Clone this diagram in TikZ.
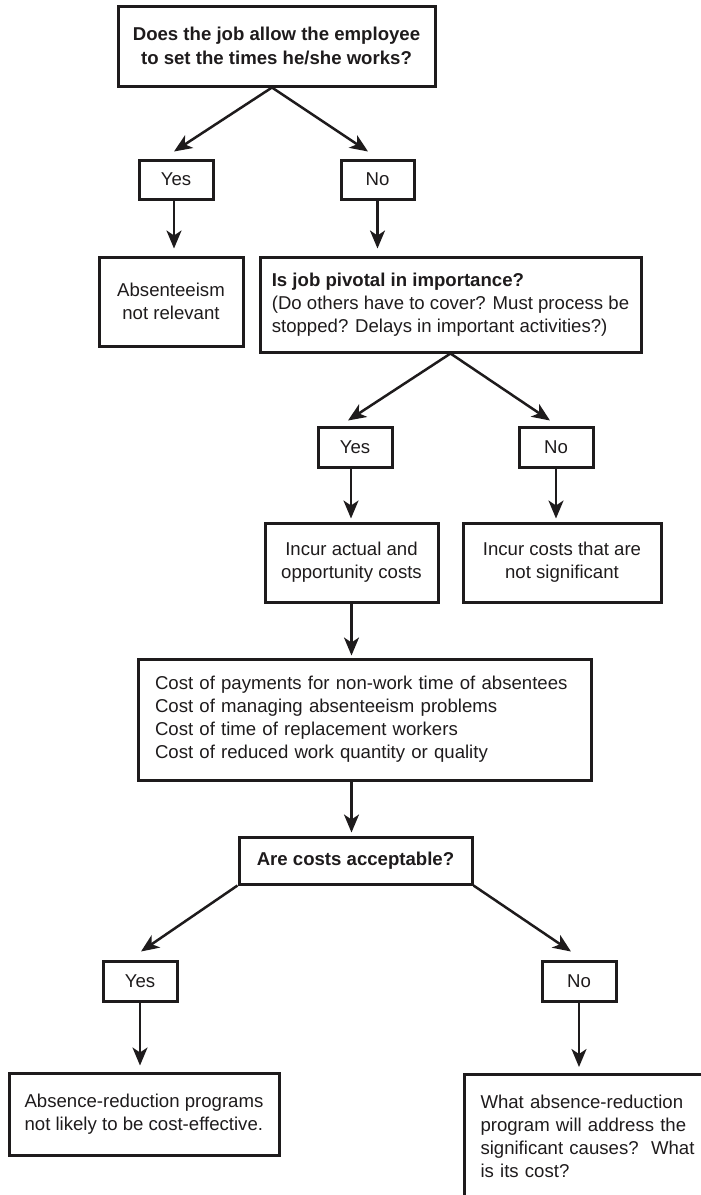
\documentclass[tikz,border=0pt]{standalone}
\usepackage{fontspec}
\setmainfont{Liberation Sans}
\usetikzlibrary{arrows.meta}
\definecolor{ink}{RGB}{30,27,28}
\begin{document}
\begin{tikzpicture}[x=1pt,y=-1pt,
  every node/.style={text=ink},
  txt/.style={font=\fontsize{18.6}{23}\selectfont},
  btxt/.style={font=\fontsize{18.6}{24}\selectfont\bfseries},
  box/.style={draw=ink, line width=3pt, inner sep=0pt, align=center, txt},
  arr/.style={draw=ink, line width=2.5pt, -{Stealth[length=18pt,width=15pt,inset=5pt]}},
]
\useasboundingbox (0,0) rectangle (701,1195);
\clip (0,0) rectangle (701,1195);

% first question and its answers
\node[box, btxt, minimum width=317pt, minimum height=80pt] (q1) at (276.5,46)
  {Does the job allow the employee\\to set the times he/she works?};
\node[box, minimum width=74pt, minimum height=39pt] (y1) at (176,179.5) {Yes};
\node[box, minimum width=73pt, minimum height=39pt] (n1) at (377.5,179.5) {No};
\node[box, minimum width=144pt, minimum height=89pt] (abs) at (171,301.5)
  {Absenteeism\\not relevant};
\node[box, align=left, minimum width=381pt, minimum height=95pt] (piv) at (450.5,304.5)
  {\textbf{Is job pivotal in importance?}\\(Do others have to cover? Must process be\\stopped? Delays in important activities?)};

% second question and its answers
\node[box, minimum width=74pt, minimum height=40pt] (y2) at (355,447) {Yes};
\node[box, minimum width=74pt, minimum height=40pt] (n2) at (556,447) {No};
\node[box, minimum width=173pt, minimum height=79pt] (inc1) at (351.5,562.5)
  {Incur actual and\\opportunity costs};
\node[box, minimum width=198pt, minimum height=79pt] (inc2) at (562,562.5)
  {Incur costs that are\\not significant};

% list of costs
\node[box, align=left, text width=419pt, inner xsep=17pt, minimum height=121pt] (cost) at (364.5,719.5)
  {Cost of payments for non-work time of absentees\\Cost of managing absenteeism problems\\Cost of time of replacement workers\\Cost of reduced work quantity or quality};

% third question and its answers
\node[box, btxt, minimum width=233pt, minimum height=47pt] (ac) at (355.5,860.5) {Are costs acceptable?};
\node[box, minimum width=74pt, minimum height=40pt] (y3) at (140,981) {Yes};
\node[box, minimum width=74pt, minimum height=40pt] (n3) at (579,981) {No};
\node[box, align=left, minimum width=270pt, minimum height=82pt] (lb) at (144,1114)
  {Absence-reduction programs\\not likely to be cost-effective.};
\node[box, align=left, anchor=north west, text width=230pt, inner xsep=16pt, minimum height=124pt] (rb) at (463,1073)
  {What absence-reduction\\program will address the\\significant causes?\ \ What\\is its cost?};

% connectors
\draw[arr] ([xshift=-4.5pt]q1.south) -- ([xshift=-2pt,yshift=7pt]y1.north);
\draw[arr] ([xshift=-4.5pt]q1.south) -- ([xshift=-9.5pt,yshift=7pt]n1.north);
\draw[arr, shorten >=7pt] ([xshift=-2pt]y1.south) -- ([xshift=-2pt]y1.south |- abs.north);
\draw[arr, shorten >=7pt] (n1.south) -- (n1.south |- piv.north);
\draw[arr] (piv.south) -- ([xshift=-7pt,yshift=5pt]y2.north);
\draw[arr] (piv.south) -- ([xshift=-6pt,yshift=5pt]n2.north);
\draw[arr, shorten >=3pt] ([xshift=-4pt]y2.south) -- ([xshift=-4pt]y2.south |- inc1.north);
\draw[arr, shorten >=3pt] (n2.south) -- (n2.south |- inc2.north);
\draw[arr, shorten >=2pt] (inc1.south) -- (inc1.south |- cost.north);
\draw[arr, shorten >=3pt] (inc1.south |- cost.south) -- (inc1.south |- ac.north);
\draw[arr] (ac.south west) -- ([xshift=1pt,yshift=8pt]y3.north);
\draw[arr] (ac.south east) -- ([xshift=-8pt,yshift=8pt]n3.north);
\draw[arr, shorten >=6pt] (y3.south) -- (y3.south |- lb.north);
\draw[arr, shorten >=6pt] (n3.south) -- (n3.south |- rb.north);
\end{tikzpicture}
\end{document}
